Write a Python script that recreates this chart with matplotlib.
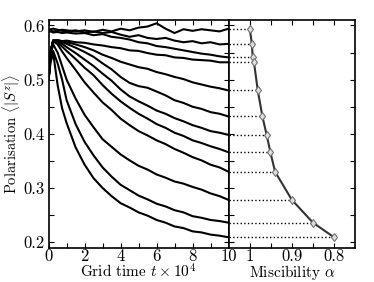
import numpy as np
import matplotlib
matplotlib.use("Agg")
import matplotlib.pyplot as plt
from matplotlib.ticker import MultipleLocator, FixedLocator, FixedFormatter

plt.rcParams['font.family'] = 'serif'
plt.rcParams['font.serif'] = ['cmr10', 'DejaVu Serif']
plt.rcParams['mathtext.fontset'] = 'cm'
plt.rcParams['axes.formatter.use_mathtext'] = True

# grid time (x 10^4)
t = [0, 0.1, 0.25, 0.5, 0.75, 1, 1.5, 2, 2.5, 3, 3.5, 4, 4.5, 5, 5.5, 6, 6.5, 7, 7.5, 8, 8.5, 9, 9.5, 10]

# polarisation curves, top (alpha = 1) to bottom (alpha = 0.8)
pol_a1000 = [0.590, 0.591, 0.589, 0.590, 0.592, 0.591, 0.589, 0.591, 0.588, 0.592, 0.589, 0.594,
             0.591, 0.596, 0.598, 0.604, 0.594, 0.586, 0.593, 0.590, 0.593, 0.591, 0.589, 0.594]
pol_a995 = [0.592, 0.593, 0.594, 0.592, 0.590, 0.589, 0.591, 0.587, 0.589, 0.586, 0.588, 0.583,
            0.579, 0.582, 0.577, 0.575, 0.577, 0.572, 0.569, 0.571, 0.567, 0.569, 0.565, 0.566]
pol_a993 = [0.588, 0.589, 0.587, 0.588, 0.586, 0.587, 0.585, 0.586, 0.582, 0.584, 0.579, 0.577,
            0.574, 0.569, 0.567, 0.562, 0.560, 0.557, 0.554, 0.551, 0.548, 0.546, 0.543, 0.541]
pol_a990 = [0.500, 0.550, 0.572, 0.573, 0.571, 0.572, 0.569, 0.568, 0.565, 0.563, 0.560, 0.558,
            0.554, 0.553, 0.549, 0.546, 0.545, 0.541, 0.540, 0.537, 0.536, 0.535, 0.532, 0.532]
pol_a980 = [0.500, 0.550, 0.572, 0.572, 0.571, 0.569, 0.565, 0.560, 0.554, 0.546, 0.540, 0.533,
            0.528, 0.523, 0.520, 0.514, 0.510, 0.505, 0.501, 0.495, 0.491, 0.487, 0.484, 0.480]
pol_a970 = [0.500, 0.550, 0.572, 0.572, 0.569, 0.566, 0.559, 0.551, 0.542, 0.530, 0.519, 0.505,
            0.494, 0.488, 0.485, 0.478, 0.471, 0.462, 0.457, 0.450, 0.446, 0.440, 0.437, 0.432]
pol_a960 = [0.500, 0.550, 0.572, 0.570, 0.566, 0.560, 0.549, 0.537, 0.525, 0.511, 0.498, 0.482,
            0.469, 0.460, 0.452, 0.443, 0.437, 0.429, 0.423, 0.416, 0.411, 0.405, 0.402, 0.398]
pol_a950 = [0.500, 0.550, 0.572, 0.568, 0.561, 0.553, 0.538, 0.522, 0.508, 0.490, 0.474, 0.460,
            0.448, 0.437, 0.428, 0.418, 0.411, 0.402, 0.396, 0.388, 0.383, 0.377, 0.372, 0.366]
pol_a940 = [0.500, 0.550, 0.571, 0.565, 0.552, 0.540, 0.518, 0.495, 0.476, 0.458, 0.444, 0.428,
            0.416, 0.405, 0.397, 0.388, 0.381, 0.372, 0.365, 0.357, 0.351, 0.343, 0.338, 0.330]
pol_a900 = [0.500, 0.545, 0.565, 0.550, 0.525, 0.500, 0.465, 0.435, 0.412, 0.390, 0.376, 0.362,
            0.351, 0.341, 0.334, 0.325, 0.319, 0.312, 0.308, 0.302, 0.297, 0.290, 0.285, 0.278]
pol_a850 = [0.500, 0.535, 0.553, 0.530, 0.500, 0.462, 0.418, 0.385, 0.360, 0.338, 0.321, 0.306,
            0.296, 0.286, 0.279, 0.271, 0.266, 0.259, 0.255, 0.248, 0.245, 0.241, 0.239, 0.236]
pol_a800 = [0.500, 0.530, 0.550, 0.490, 0.447, 0.420, 0.375, 0.343, 0.318, 0.300, 0.285, 0.272,
            0.264, 0.255, 0.249, 0.241, 0.236, 0.229, 0.226, 0.220, 0.218, 0.214, 0.212, 0.209]

curves = [pol_a1000, pol_a995, pol_a993, pol_a990, pol_a980, pol_a970,
          pol_a960, pol_a950, pol_a940, pol_a900, pol_a850, pol_a800]

# miscibility of each run and its polarisation at the end of the run
alpha = [1.0, 0.995, 0.993, 0.99, 0.981, 0.97, 0.96, 0.951, 0.94, 0.9, 0.85, 0.8]
pol_final = [c[-1] for c in curves]

fig = plt.figure(figsize=(3.74, 2.82), dpi=100)
ax1 = fig.add_axes([0.130, 0.122, 0.481, 0.807])
ax2 = fig.add_axes([0.6115, 0.122, 0.338, 0.807])

for c in curves:
    ax1.plot(t, c, color='black', lw=1.5)

ax1.set_xlim(0, 10)
ax1.set_ylim(0.19, 0.61)
ax1.xaxis.set_major_locator(MultipleLocator(2))
ax1.xaxis.set_minor_locator(MultipleLocator(1))
ax1.yaxis.set_major_locator(MultipleLocator(0.1))
ax1.yaxis.set_minor_locator(MultipleLocator(0.05))
ax1.xaxis.set_major_formatter(plt.FuncFormatter(lambda v, p: f"{v:g}"))
ax1.yaxis.set_major_formatter(plt.FuncFormatter(lambda v, p: f"{v:.1f}"))
ax1.set_xlabel(r"Grid time $t\times10^4$", fontsize=11, labelpad=-1)
ax1.set_ylabel(r"Polarisation $\langle|S^z|\rangle$", fontsize=10.5, labelpad=1)

for a, p in zip(alpha, pol_final):
    ax2.plot([1.05, a], [p, p], color='black', lw=1.0, ls=':')
ax2.plot(alpha, pol_final, color='#333333', lw=1.5, marker='d', ms=4.5,
         mfc='#dddddd', mec='#666666', mew=0.7)
ax2.set_xlim(1.05, 0.75)
ax2.set_ylim(0.19, 0.61)
ax2.xaxis.set_major_locator(FixedLocator([1.0, 0.9, 0.8]))
ax2.xaxis.set_major_formatter(FixedFormatter(['1', '0.9', '0.8']))
ax2.xaxis.set_minor_locator(FixedLocator([0.95, 0.85]))
ax2.yaxis.set_major_locator(MultipleLocator(0.1))
ax2.yaxis.set_minor_locator(MultipleLocator(0.05))
ax2.set_yticklabels([])
ax2.set_xlabel(r"Miscibility $\alpha$", fontsize=11, labelpad=-1)

for ax in (ax1, ax2):
    ax.tick_params(which='both', direction='in', top=True, right=True,
                   length=3.5, width=0.8, labelsize=12, pad=3)
    ax.tick_params(axis='x', pad=1)
    for s in ax.spines.values():
        s.set_linewidth(1.2)
ax2.tick_params(axis='y', which='both', labelleft=False)

fig.savefig("out.png", dpi=100)
